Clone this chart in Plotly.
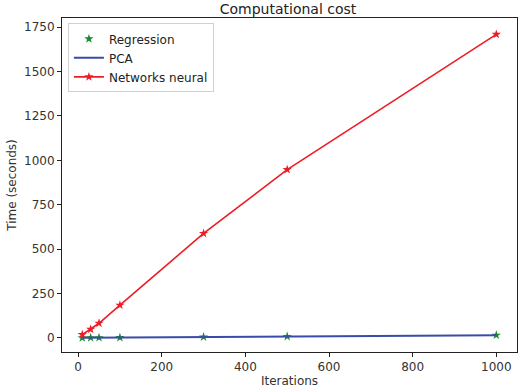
import plotly.graph_objects as go

iterations = [10, 30, 50, 100, 300, 500, 1000]
regression = [0.2, 0.5, 0.8, 1.5, 4.5, 7.5, 15]
pca = [0.2, 0.5, 0.8, 1.5, 4.5, 7.5, 14]
neural = [18, 48, 82, 184, 588, 948, 1710]

green = "#1a8a2a"
blue = "#3a4ca8"
red = "#ee1c24"
font = "DejaVu Sans"

fig = go.Figure()
fig.add_trace(go.Scatter(x=iterations, y=regression, mode="markers", name="Regression",
                         marker=dict(symbol="star", size=7, color=green)))
fig.add_trace(go.Scatter(x=iterations, y=pca, mode="lines", name="PCA",
                         line=dict(color=blue, width=2)))
fig.add_trace(go.Scatter(x=iterations, y=neural, mode="lines+markers", name="Networks neural",
                         line=dict(color=red, width=1.6),
                         marker=dict(symbol="star", size=7, color=red)))

axis_common = dict(showline=True, linecolor="#222", linewidth=1, mirror=True,
                   ticks="outside", ticklen=4, tickcolor="#222", showgrid=False,
                   zeroline=False, tickfont=dict(family=font, size=12, color="#333"))

fig.update_layout(
    width=518, height=390,
    margin=dict(l=62, r=1, t=18, b=38, autoexpand=False),
    plot_bgcolor="white", paper_bgcolor="white",
    title=dict(text="Computational cost", x=0.556, xanchor="center", y=0.99, yanchor="top",
               font=dict(family=font, size=14, color="#222")),
    xaxis=dict(range=[-38.5, 1049.5], tickvals=[0, 200, 400, 600, 800, 1000],
               title=dict(text="Iterations", font=dict(family=font, size=12, color="#333"), standoff=2),
               **axis_common),
    yaxis=dict(range=[-80, 1802], tickvals=[0, 250, 500, 750, 1000, 1250, 1500, 1750],
               title=dict(text="Time (seconds)", font=dict(family=font, size=12, color="#333"), standoff=4),
               **axis_common),
    legend=dict(x=0.013, y=0.984, xanchor="left", yanchor="top", bgcolor="white",
                bordercolor="#d0d0d0", borderwidth=1,
                font=dict(family=font, size=12, color="#222"), tracegroupgap=0,
                itemwidth=30),
    showlegend=True,
)

fig.write_html("out.html", config={"displayModeBar": False},
               post_script="document.body.style.margin='0';document.body.style.overflow='hidden';")
